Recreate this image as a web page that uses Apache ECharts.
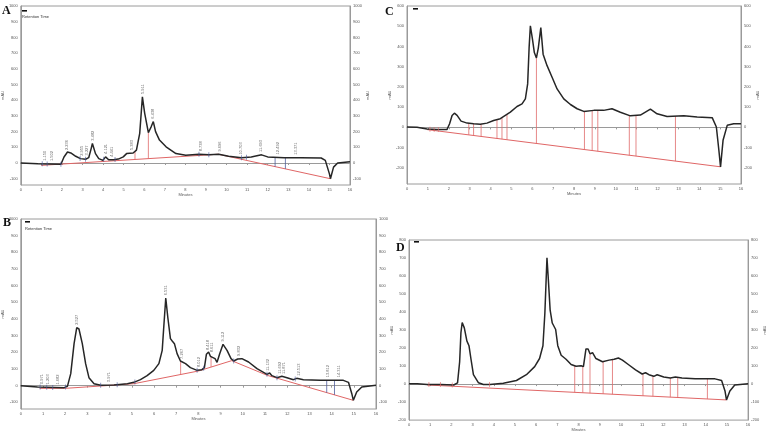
<!DOCTYPE html>
<html>
<head>
<meta charset="utf-8">
<script src="https://cdn.jsdelivr.net/npm/echarts@6/dist/echarts.min.js"></script>
<style>
  html, body { margin: 0; padding: 0; background: #fff; }
  #chart { width: 768px; height: 433px; }
</style>
</head>
<body>
<div id="chart"></div>
<script>
// chromatogram traces, [minutes, mAU]
const traceA = [[0,0],[0.83,-4],[1.95,-8],[2.1,38],[2.27,70],[2.43,64],[2.67,43],[2.9,28],[3.15,24],[3.3,34],[3.42,92],[3.48,124],
  [3.63,60],[3.79,28],[3.99,17],[4.12,39],[4.27,21],[4.5,21],[4.74,25],[4.98,39],[5.14,60],[5.46,64],[5.62,82],[5.78,189],
  [5.91,421],[6.02,318],[6.2,193],[6.34,232],[6.44,264],[6.55,200],[6.74,146],[7.06,103],[7.54,60],[8.02,49],[8.66,56],
  [9.14,52],[9.62,56],[10.1,43],[10.73,34],[11.2,39],[11.7,52],[12.0,39],[12.8,34],[13.6,34],[14.6,32],[14.8,17],
  [15.0,-69],[15.05,-100],[15.2,-26],[15.4,0],[16,8]];
const baseA = [[0.99,-15],[9.6,56],[15.05,-100]];
const dropsRedA = [5.55, 6.2];
const dropsBlueA = [12.36, 12.86];
const marksA = [1.04,1.28,1.95,2.88,3.15,4.03,4.58,8.66,9.14,10.73,10.97];
const peaksA = [1.150,1.502,2.236,2.955,3.227,3.482,4.121,4.441,5.383,5.911,6.438,8.738,9.696,10.703,11.693,12.492,13.371];

const traceB = [[0,0],[0.75,-8],[1.95,-12],[2.1,-4],[2.25,72],[2.4,252],[2.52,348],[2.62,340],[2.77,252],[2.92,132],[3.07,48],
  [3.3,12],[3.6,2],[4.2,4],[4.8,12],[5.09,20],[5.39,36],[5.69,60],[5.99,92],[6.22,132],[6.37,212],[6.44,352],[6.53,526],
  [6.62,412],[6.74,282],[6.82,268],[6.92,252],[7.04,192],[7.19,148],[7.42,132],[7.64,108],[7.94,92],[8.16,96],[8.27,108],
  [8.36,188],[8.46,202],[8.54,176],[8.63,184],[8.75,162],[8.84,140],[8.96,192],[9.11,248],[9.29,212],[9.47,162],[9.59,148],
  [9.77,160],[9.96,162],[10.26,142],[10.64,102],[11.09,68],[11.21,76],[11.31,60],[11.54,48],[11.76,56],[11.99,48],
  [12.28,36],[12.43,44],[12.73,36],[13.48,32],[14.53,32],[14.76,20],[14.91,-48],[14.98,-88],[15.13,-38],[15.36,-8],[16,2]];
const baseB = [[0.85,-16],[2.0,-16],[3.6,-2],[5.1,12],[8.0,88],[9.5,150],[11.1,62],[14.98,-88]];
const dropsRedB = [7.2, 8.57];
const dropsBlueB = [13.78, 14.13];
const marksB = [0.87,1.17,1.44,2.02,3.6,4.34,5.14,7.94,8.24,9.59,11.09,11.54,12.36];
const peaksB = [0.971,1.203,1.682,2.527,3.971,6.531,7.267,8.012,8.418,8.611,9.112,9.832,11.132,11.692,11.871,12.513,13.812,14.311];

const traceC = [[0,2],[0.48,0],[0.96,-8],[1.44,-11],[1.92,-10],[2.04,18],[2.16,59],[2.27,70],[2.4,59],[2.59,31],[2.88,21],
  [3.19,18],[3.51,15],[3.83,21],[4.15,34],[4.47,43],[4.71,59],[4.95,75],[5.27,103],[5.51,116],[5.67,141],[5.78,215],
  [5.85,395],[5.91,502],[6.01,436],[6.1,370],[6.2,343],[6.29,392],[6.41,493],[6.52,362],[6.71,305],[6.95,248],[7.19,190],
  [7.51,141],[7.83,113],[8.15,92],[8.47,79],[8.95,84],[9.42,84],[9.82,92],[10.22,75],[10.7,57],[11.18,61],[11.66,90],
  [11.98,67],[12.46,54],[13.26,57],[13.9,51],[14.62,48],[14.82,2],[14.94,-113],[15.02,-195],[15.14,-64],[15.34,10],
  [15.65,18],[16,18]];
const baseC = [[0.96,-11],[15.02,-195]];
const dropsRedC = [2.96,3.19,3.55,4.31,4.55,4.79,6.2,8.5,8.87,9.14,10.65,10.97,12.86];
const marksC = [1.1,1.3,1.5];

const traceD = [[0,2],[0.39,2],[0.86,-2],[1.48,-2],[2.11,-5],[2.29,7],[2.39,124],[2.45,285],[2.51,342],[2.61,312],[2.73,240],
  [2.83,213],[2.92,142],[3.04,52],[3.28,7],[3.51,-2],[3.82,-2],[4.45,5],[5.07,20],[5.54,52],[5.93,97],[6.16,142],[6.32,213],
  [6.41,392],[6.48,608],[6.51,701],[6.57,590],[6.66,410],[6.76,339],[6.84,339],[6.92,303],[7.02,213],[7.18,160],[7.41,138],
  [7.65,109],[7.88,99],[8.12,102],[8.23,97],[8.35,195],[8.45,195],[8.54,168],[8.66,174],[8.82,142],[9.13,124],[9.44,133],
  [9.68,138],[9.88,145],[10.07,133],[10.38,106],[10.69,79],[11.0,56],[11.16,63],[11.32,52],[11.55,43],[11.71,52],
  [12.02,39],[12.33,34],[12.57,39],[12.88,34],[13.5,29],[14.44,29],[14.75,20],[14.91,-38],[14.98,-88],[15.14,-38],
  [15.37,-5],[16,2]];
const baseD = [[0.86,-5],[14.98,-88]];
const dropsRedD = [7.82,8.2,8.54,9.16,9.6,11.04,11.51,12.33,12.68,14.08];
const marksD = [0.94,1.48,2.04,3.8];

function interp(arr, t) {
  if (t <= arr[0][0]) return arr[0][1];
  for (let i = 1; i < arr.length; i++) {
    if (t <= arr[i][0]) {
      const a = arr[i - 1], b = arr[i];
      return a[1] + (b[1] - a[1]) * (t - a[0]) / (b[0] - a[0]);
    }
  }
  return arr[arr.length - 1][1];
}

function dropData(times, trace, base) {
  const out = [];
  times.forEach(t => {
    out.push([t, interp(base, t)]);
    out.push([t, interp(trace, t)]);
    out.push([t, '-']);
  });
  return out;
}

const panels = [
  { grid: { left: 16, top: 6, width: 334, height: 179 }, min: -140, max: 1000, step: 20,
    trace: traceA, base: baseA, red: dropsRedA, blue: dropsBlueA, marks: marksA, markColor: '#4f5d9c',
    peaks: peaksA, rightName: true },
  { grid: { left: 407, top: 6, width: 334, height: 178 }, min: -280, max: 600, step: 20,
    trace: traceC, base: baseC, red: dropsRedC, blue: [], marks: marksC, markColor: '#e06a6a',
    peaks: [], rightName: true },
  { grid: { left: 20, top: 219, width: 356, height: 190 }, min: -140, max: 1000, step: 20,
    trace: traceB, base: baseB, red: dropsRedB, blue: dropsBlueB, marks: marksB, markColor: '#4f5d9c',
    peaks: peaksB, rightName: false },
  { grid: { left: 409, top: 240, width: 343, height: 186 }, min: -200, max: 800, step: 100,
    trace: traceD, base: baseD, red: dropsRedD, blue: [], marks: marksD, markColor: '#e06a6a',
    peaks: [], rightName: true }
];

const tiny = { fontSize: 4, color: '#555', fontFamily: 'Liberation Sans' };

const grids = [], xAxes = [], yAxes = [], series = [];
panels.forEach((p, i) => {
  grids.push(Object.assign({ show: true, borderColor: '#9a9a9a', borderWidth: 1, backgroundColor: '#fff' }, p.grid));
  xAxes.push({
    type: 'value', gridIndex: i, min: 0, max: 16, interval: 1,
    name: 'Minutes', nameLocation: 'middle', nameGap: 7, nameTextStyle: tiny,
    axisLine: { lineStyle: { color: '#9a9a9a' } },
    axisTick: { length: 2, lineStyle: { color: '#9a9a9a' } },
    axisLabel: Object.assign({ margin: 3 }, tiny),
    splitLine: { show: false }
  });
  const yLab = Object.assign({ margin: 3, formatter: v => (v % 100 === 0 ? String(v) : '') }, tiny);
  ['left', 'right'].forEach(pos => {
    yAxes.push({
      type: 'value', gridIndex: i, position: pos, min: p.min, max: p.max, interval: p.step,
      name: (pos === 'left' || p.rightName) ? 'mAU' : '', nameLocation: 'middle', nameGap: 9,
      nameTextStyle: tiny,
      axisLine: { show: true, lineStyle: { color: '#9a9a9a' } },
      axisTick: { show: false },
      axisLabel: yLab,
      splitLine: { show: false }
    });
  });
  const yi = i * 2;
  series.push({
    type: 'line', xAxisIndex: i, yAxisIndex: yi, data: p.base, symbol: 'none', silent: true,
    lineStyle: { color: '#e06666', width: 1 }, z: 2
  });
  series.push({
    type: 'line', xAxisIndex: i, yAxisIndex: yi, data: dropData(p.red, p.trace, p.base), symbol: 'none',
    connectNulls: false, lineStyle: { color: '#e06a6a', width: 0.8 }, z: 2
  });
  if (p.blue.length) {
    series.push({
      type: 'line', xAxisIndex: i, yAxisIndex: yi, data: dropData(p.blue, p.trace, p.base), symbol: 'none',
      connectNulls: false, lineStyle: { color: '#4f5d9c', width: 0.8 }, z: 2
    });
  }
  series.push({
    type: 'line', xAxisIndex: i, yAxisIndex: yi, data: p.trace, symbol: 'none',
    lineStyle: { color: '#262626', width: 1.5 }, z: 3
  });
  series.push({
    type: 'scatter', xAxisIndex: i, yAxisIndex: yi, symbol: 'rect', symbolSize: [0.8, 5],
    data: p.marks.map(t => [t, interp(p.trace, t)]),
    itemStyle: { color: p.markColor }, z: 4
  });
  if (p.peaks.length) {
    series.push({
      type: 'scatter', xAxisIndex: i, yAxisIndex: yi, symbolSize: 0,
      data: p.peaks.map(t => [t, interp(p.trace, t)]),
      label: {
        show: true, position: 'top', distance: 3, rotate: 90, align: 'left', verticalAlign: 'middle',
        fontSize: 4, color: '#444', fontFamily: 'Liberation Sans',
        formatter: d => d.value[0].toFixed(3)
      }, z: 4
    });
  }
});

const letter = (text, x, y) => ({
  type: 'text', left: x, top: y,
  style: { text: text, font: 'bold 12px "Liberation Serif"', fill: '#111' }
});
const key = (x, y) => ({
  type: 'rect', shape: { x: x, y: y, width: 5, height: 1.6 }, style: { fill: '#111' }
});
const keyText = (x, y) => ({
  type: 'text', left: x, top: y,
  style: { text: 'Retention Time', font: '4px "Liberation Sans"', fill: '#333' }
});

const chart = echarts.init(document.getElementById('chart'));
chart.setOption({
  animation: false,
  backgroundColor: '#fff',
  grid: grids,
  xAxis: xAxes,
  yAxis: yAxes,
  series: series,
  graphic: [
    letter('A', 2, 5), letter('C', 385, 6), letter('B', 3, 217), letter('D', 396, 242),
    key(22, 10), keyText(22, 15),
    key(413, 8),
    key(25, 221), keyText(25, 227),
    key(414, 241)
  ]
});
</script>
</body>
</html>
